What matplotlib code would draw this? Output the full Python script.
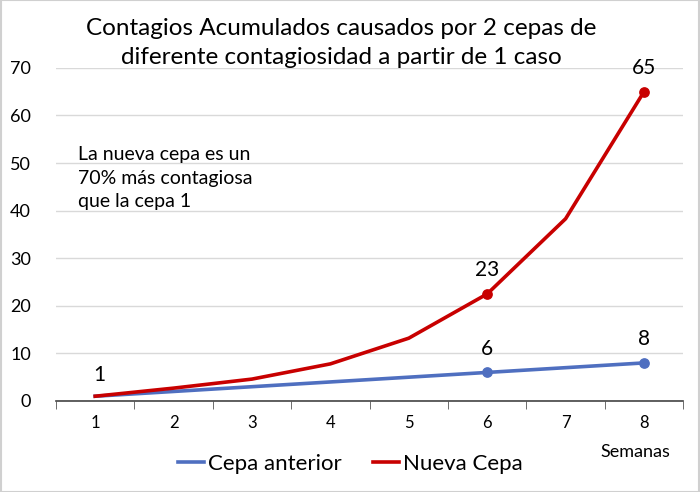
import numpy as np
import matplotlib.pyplot as plt

semanas = [1, 2, 3, 4, 5, 6, 7, 8]
cepa_anterior = [1, 2, 3, 4, 5, 6, 7, 8]
nueva_cepa = [1, 2.7, 4.6, 7.8, 13.2, 22.5, 38.3, 65]
marcados = [6, 8]
etiquetas_azul = {6: "6", 8: "8"}
etiquetas_rojo = {1: "1", 6: "23", 8: "65"}

azul = '#4F6FC0'
rojo = '#C80000'
plt.rcParams['font.family'] = ['Lato', 'DejaVu Sans']

fig = plt.figure(figsize=(7, 4.92), dpi=100)
ax = fig.add_axes([0.08, 0.185, 0.896, 0.677])

ax.plot(semanas, cepa_anterior, color=azul, lw=2.6, label='Cepa anterior', zorder=3)
ax.plot(semanas, nueva_cepa, color=rojo, lw=2.6, label='Nueva Cepa', zorder=4)

idx = [semanas.index(s) for s in marcados]
ax.scatter([semanas[i] for i in idx], [cepa_anterior[i] for i in idx],
           color=azul, s=45, zorder=5)
ax.scatter([semanas[i] for i in idx], [nueva_cepa[i] for i in idx],
           color=rojo, s=45, zorder=6)

for s, t in etiquetas_azul.items():
    ax.annotate(t, (s, cepa_anterior[semanas.index(s)]), xytext=(0, 10),
                textcoords='offset points', ha='center', va='bottom', fontsize=15)
for s, t in etiquetas_rojo.items():
    ax.annotate(t, (s, nueva_cepa[semanas.index(s)]), xytext=(3 if s == 1 else 0, 8 if s == 1 else 10),
                textcoords='offset points', ha='center', va='bottom', fontsize=15)

ax.set_xlim(0.5, 8.5)
ax.set_ylim(0, 70)
ax.set_yticks(np.arange(0, 71, 10))
ax.set_xticks(semanas)
ax.set_xticks(np.arange(0.5, 8.6, 1), minor=True)
ax.tick_params(axis='x', which='major', length=0, pad=10, labelsize=12)
ax.tick_params(axis='x', which='minor', length=6, color='#555555', direction='out')
ax.tick_params(axis='y', length=0, pad=18, labelsize=13)
ax.grid(axis='y', color='#D9D9D9', lw=1)
ax.set_axisbelow(True)
for sp in ['left', 'right', 'top']:
    ax.spines[sp].set_visible(False)
ax.spines['bottom'].set_color('#444444')
ax.spines['bottom'].set_linewidth(1.2)

ax.text(0.78, 53.5, 'La nueva cepa es un\n70% más contagiosa\nque la cepa 1',
        fontsize=14, va='top', ha='left', linespacing=1.45)

fig.text(0.487, 0.913, 'Contagios Acumulados causados por 2 cepas de\ndiferente contagiosidad a partir de 1 caso',
         ha='center', va='center', fontsize=17.5, linespacing=1.45)
fig.text(0.908, 0.082, 'Semanas', ha='center', va='center', fontsize=13)

fig.legend(loc='center', bbox_to_anchor=(0.5, 0.057), ncol=2, frameon=False,
           fontsize=16, handlelength=1.2, handletextpad=0.15, columnspacing=1.4)

fig.patches.append(plt.Rectangle((0.001, 0.001), 0.998, 0.998, transform=fig.transFigure,
                                 fill=False, edgecolor='#D0D0D0', lw=1.5))
fig.savefig('out.png', dpi=100)
